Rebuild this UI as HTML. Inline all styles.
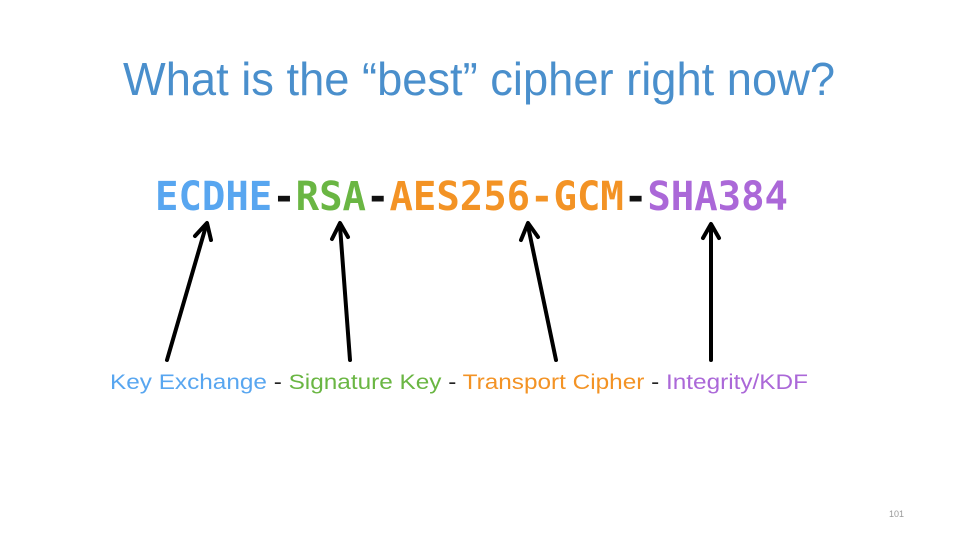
<!DOCTYPE html>
<html><head><meta charset="utf-8"><style>html,body{margin:0;padding:0;background:#fff}svg{display:block}</style></head>
<body>
<svg width="960" height="540" viewBox="0 0 960 540" xmlns="http://www.w3.org/2000/svg">
<rect width="960" height="540" fill="#fff"/>
<text x="123" y="95" font-family="Liberation Sans, sans-serif" font-size="46" fill="#4a8fcc" textLength="712" lengthAdjust="spacingAndGlyphs">What is the “best” cipher right now?</text>
<text x="155" y="210" font-family="DejaVu Sans Mono, monospace" font-weight="bold" font-size="40" textLength="633" lengthAdjust="spacingAndGlyphs"><tspan fill="#58a6f0">ECDHE</tspan><tspan fill="#111">-</tspan><tspan fill="#6ab643">RSA</tspan><tspan fill="#111">-</tspan><tspan fill="#f39325">AES256-GCM</tspan><tspan fill="#111">-</tspan><tspan fill="#ab68d8">SHA384</tspan></text>
<g stroke="#000" stroke-width="4" fill="none" stroke-linecap="round" stroke-linejoin="round">
<line x1="167" y1="360" x2="206" y2="226"/><polyline points="195,236 207,223 211,240"/>
<line x1="350" y1="360" x2="340" y2="226"/><polyline points="332,239 340,223 348,237"/>
<line x1="556" y1="360" x2="528" y2="226"/><polyline points="521,240 528,223 538,237"/>
<line x1="711" y1="360" x2="711" y2="226"/><polyline points="703,238 711,224 719,238"/>
</g>
<text x="110" y="389" font-family="Liberation Sans, sans-serif" font-size="21" textLength="698" lengthAdjust="spacingAndGlyphs"><tspan fill="#58a6f0">Key Exchange</tspan><tspan fill="#222"> - </tspan><tspan fill="#6ab643">Signature Key</tspan><tspan fill="#222"> - </tspan><tspan fill="#f39325">Transport Cipher</tspan><tspan fill="#222"> - </tspan><tspan fill="#ab68d8">Integrity/KDF</tspan></text>
<text x="889" y="517" font-family="Liberation Sans, sans-serif" font-size="9" fill="#999">101</text>
</svg>
</body></html>
